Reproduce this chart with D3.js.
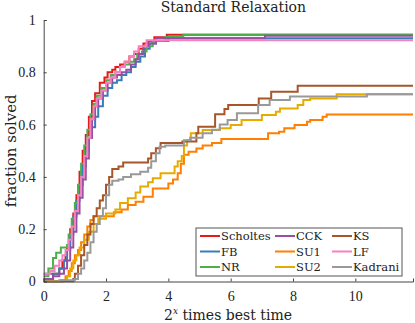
<!DOCTYPE html>
<html>
<head>
<meta charset="utf-8">
<script src="https://cdn.jsdelivr.net/npm/d3@7"></script>
<style>
  body { margin: 0; background: #fff; }
  #chart { width: 415px; height: 323px; }
</style>
</head>
<body>
<div id="chart"></div>
<script>
// performance profile, each series is [x, fraction] step breakpoints
const seriesNames = ['Scholtes', 'FB', 'NR', 'CCK', 'SU1', 'SU2', 'KS', 'LF', 'Kadrani'];
const seriesColors = ['#e41a1c', '#377eb8', '#4daf4a', '#984ea3', '#ff7f00', '#e6ab00', '#a65628', '#f781bf', '#999999'];

const scholtes = [[0,0.01],[0.3,0.03],[0.5,0.05],[0.6,0.08],[0.7,0.1],[0.75,0.13],[0.85,0.2],[0.95,0.26],[1.05,0.33],[1.15,0.42],[1.25,0.5],[1.35,0.56],[1.45,0.63],[1.55,0.69],[1.65,0.72],[1.8,0.76],[1.95,0.78],[2.05,0.8],[2.2,0.81],[2.3,0.82],[2.45,0.83],[2.6,0.84],[2.75,0.86],[2.9,0.87],[3.05,0.89],[3.2,0.91],[3.35,0.92],[3.55,0.934],[3.95,0.944]];
const fb = [[0,0.03],[0.5,0.05],[0.65,0.08],[0.75,0.12],[0.85,0.18],[0.95,0.25],[1.05,0.31],[1.15,0.37],[1.25,0.44],[1.35,0.5],[1.45,0.55],[1.55,0.59],[1.65,0.63],[1.75,0.67],[1.9,0.71],[2.05,0.74],[2.2,0.76],[2.35,0.77],[2.5,0.79],[2.65,0.8],[2.8,0.82],[2.95,0.84],[3.1,0.86],[3.25,0.89],[3.4,0.91],[3.6,0.92],[4.0,0.93]];
const nr = [[0,0.02],[0.15,0.05],[0.3,0.09],[0.4,0.11],[0.55,0.13],[0.75,0.14],[0.8,0.18],[0.9,0.24],[1.0,0.3],[1.1,0.37],[1.2,0.45],[1.3,0.52],[1.4,0.58],[1.5,0.64],[1.6,0.68],[1.7,0.71],[1.85,0.74],[2.0,0.77],[2.15,0.79],[2.3,0.8],[2.45,0.82],[2.6,0.83],[2.75,0.84],[2.9,0.85],[3.0,0.87],[3.15,0.88],[3.3,0.9],[3.5,0.92],[3.9,0.935],[4.48,0.944]];
const cck = [[0,0.01],[0.3,0.02],[0.5,0.03],[0.65,0.05],[0.75,0.08],[0.85,0.13],[0.95,0.19],[1.05,0.26],[1.15,0.32],[1.25,0.39],[1.35,0.47],[1.45,0.55],[1.55,0.62],[1.65,0.67],[1.75,0.7],[1.9,0.73],[2.05,0.76],[2.2,0.78],[2.35,0.79],[2.5,0.8],[2.65,0.81],[2.8,0.83],[2.95,0.85],[3.05,0.87],[3.2,0.9],[3.35,0.91],[3.6,0.93],[7.1,0.94]];
const su1 = [[0,0],[0.55,0.005],[0.7,0.02],[0.8,0.04],[0.9,0.07],[1.0,0.1],[1.1,0.12],[1.2,0.15],[1.3,0.18],[1.4,0.21],[1.5,0.235],[1.6,0.25],[2.25,0.265],[2.5,0.275],[2.7,0.293],[2.95,0.305],[3.2,0.324],[3.5,0.356],[4.0,0.375],[4.15,0.39],[4.3,0.414],[4.4,0.45],[4.5,0.485],[4.65,0.496],[4.9,0.509],[5.1,0.52],[5.4,0.53],[5.7,0.545],[7.2,0.567],[7.55,0.573],[7.72,0.586],[8.05,0.598],[8.45,0.611],[8.55,0.618],[8.95,0.63],[9.08,0.639]];
const su2 = [[0,0],[0.65,0.005],[0.75,0.02],[0.85,0.05],[0.95,0.08],[1.05,0.1],[1.15,0.13],[1.3,0.16],[1.45,0.19],[1.6,0.22],[1.75,0.24],[2.0,0.26],[2.3,0.275],[2.45,0.3],[2.7,0.318],[2.95,0.34],[3.1,0.363],[3.35,0.38],[3.5,0.395],[3.75,0.414],[4.2,0.44],[4.3,0.46],[4.43,0.48],[4.5,0.52],[4.6,0.54],[4.72,0.567],[5.1,0.579],[5.65,0.586],[6.0,0.598],[6.35,0.618],[7.0,0.637],[7.45,0.649],[7.58,0.662],[8.15,0.675],[8.33,0.694],[8.55,0.7],[9.4,0.716]];
const ks = [[0,0],[0.95,0.01],[1.0,0.03],[1.1,0.06],[1.2,0.1],[1.3,0.14],[1.4,0.18],[1.5,0.22],[1.6,0.25],[1.7,0.28],[1.8,0.31],[1.9,0.33],[2.0,0.37],[2.1,0.4],[2.2,0.43],[2.4,0.44],[2.55,0.455],[3.35,0.47],[3.45,0.49],[3.6,0.51],[3.75,0.53],[4.45,0.535],[4.9,0.567],[4.96,0.592],[5.5,0.64],[5.8,0.66],[5.92,0.675],[6.9,0.7],[7.3,0.726],[8.15,0.749]];
const lf = [[0,0.03],[0.2,0.04],[0.35,0.06],[0.5,0.08],[0.6,0.1],[0.7,0.12],[0.8,0.16],[0.9,0.21],[1.0,0.27],[1.1,0.33],[1.2,0.4],[1.3,0.48],[1.4,0.55],[1.5,0.62],[1.6,0.67],[1.7,0.7],[1.85,0.73],[2.0,0.76],[2.15,0.78],[2.3,0.8],[2.45,0.82],[2.6,0.84],[2.75,0.86],[2.9,0.88],[3.05,0.9],[3.3,0.923]];
const kadrani = [[0,0],[0.5,0.005],[1.0,0.01],[1.1,0.03],[1.2,0.05],[1.3,0.08],[1.4,0.11],[1.5,0.15],[1.6,0.19],[1.7,0.22],[1.8,0.25],[1.9,0.28],[2.0,0.33],[2.1,0.37],[2.2,0.385],[2.4,0.39],[2.55,0.4],[2.8,0.41],[3.1,0.42],[3.35,0.435],[3.45,0.46],[3.6,0.49],[3.72,0.515],[3.9,0.52],[4.5,0.54],[4.7,0.55],[5.1,0.567],[5.4,0.58],[5.65,0.6],[5.9,0.618],[6.2,0.643],[6.88,0.675],[7.25,0.694],[7.9,0.707],[10.37,0.716]];

const seriesData = [scholtes, fb, nr, cck, su1, su2, ks, lf, kadrani];

const xTicks = [0, 2, 4, 6, 8, 10];
const yTicks = [0, 0.2, 0.4, 0.6, 0.8, 1];
const xMax = 11.85;

const width = 415;
const height = 323;
const margin = { top: 20, right: 2, bottom: 41.5, left: 43.7 };
const innerW = width - margin.left - margin.right;
const innerH = height - margin.top - margin.bottom;

const svg = d3.select('#chart').append('svg')
  .attr('width', width)
  .attr('height', height);

const x = d3.scaleLinear().domain([0, xMax]).range([0, innerW]);
const y = d3.scaleLinear().domain([0, 1]).range([innerH, 0]);

const g = svg.append('g')
  .attr('transform', `translate(${margin.left},${margin.top})`);

const clip = svg.append('defs').append('clipPath').attr('id', 'plot-clip');
clip.append('rect')
  .attr('x', -1).attr('y', -2)
  .attr('width', innerW + 2).attr('height', innerH + 3);

const line = d3.line()
  .x(d => x(d[0]))
  .y(d => y(d[1]))
  .curve(d3.curveStepAfter);

const lines = g.append('g').attr('clip-path', 'url(#plot-clip)');
seriesData.forEach((pts, i) => {
  const last = pts[pts.length - 1];
  lines.append('path')
    .datum(pts.concat([[xMax, last[1]]]))
    .attr('fill', 'none')
    .attr('stroke', seriesColors[i])
    .attr('stroke-width', 2)
    .attr('d', line);
});

const tickFont = '"Liberation Serif", serif';
const textFont = '"DejaVu Serif", serif';

// axes, ticks pointing inward like matlab
const xAxis = g.append('g')
  .attr('transform', `translate(0,${innerH})`)
  .call(d3.axisBottom(x).tickValues(xTicks).tickSize(-3).tickPadding(10).tickFormat(d3.format('d')));
const yAxis = g.append('g')
  .call(d3.axisLeft(y).tickValues(yTicks).tickSize(-3).tickPadding(8).tickFormat(d => d === 0 || d === 1 ? d3.format('d')(d) : d3.format('.1f')(d)));

[xAxis, yAxis].forEach(ax => {
  ax.select('.domain').attr('stroke', '#444').attr('stroke-width', 1);
  ax.selectAll('.tick line').attr('stroke', '#444');
  ax.selectAll('.tick text')
    .attr('fill', '#222')
    .style('font-family', tickFont)
    .style('font-size', '14px');
});

svg.append('text')
  .attr('x', margin.left + innerW / 2 + 5)
  .attr('y', 12)
  .attr('text-anchor', 'middle')
  .style('font-family', textFont)
  .style('font-size', '14px')
  .attr('fill', '#222')
  .text('Standard Relaxation');

const xLabel = svg.append('text')
  .attr('x', 228)
  .attr('y', 320)
  .attr('text-anchor', 'middle')
  .style('font-family', textFont)
  .style('font-size', '14px')
  .attr('fill', '#222');
xLabel.append('tspan').text('2');
xLabel.append('tspan').attr('dy', -6).style('font-size', '9px').style('font-style', 'italic').text('x');
xLabel.append('tspan').attr('dy', 6).text(' times best time');

svg.append('text')
  .attr('transform', `translate(16,${margin.top + innerH / 2}) rotate(-90)`)
  .attr('text-anchor', 'middle')
  .style('font-family', textFont)
  .style('font-size', '15px')
  .attr('fill', '#222')
  .text('fraction solved');

// legend
const legend = svg.append('g').attr('transform', 'translate(196,228)');
legend.append('rect')
  .attr('width', 206)
  .attr('height', 48)
  .attr('fill', '#fff')
  .attr('stroke', '#555')
  .attr('stroke-width', 1);

const colX = [4, 79, 136];
seriesNames.forEach((name, i) => {
  const col = Math.floor(i / 3);
  const row = i % 3;
  const item = legend.append('g')
    .attr('transform', `translate(${colX[col]},${8 + row * 15.5})`);
  item.append('line')
    .attr('x1', 0).attr('x2', 20)
    .attr('stroke', seriesColors[i])
    .attr('stroke-width', 2);
  item.append('text')
    .attr('x', 21)
    .attr('dy', '0.35em')
    .style('font-family', textFont)
    .style('font-size', '11.5px')
    .attr('fill', '#222')
    .text(name);
});
</script>
</body>
</html>
